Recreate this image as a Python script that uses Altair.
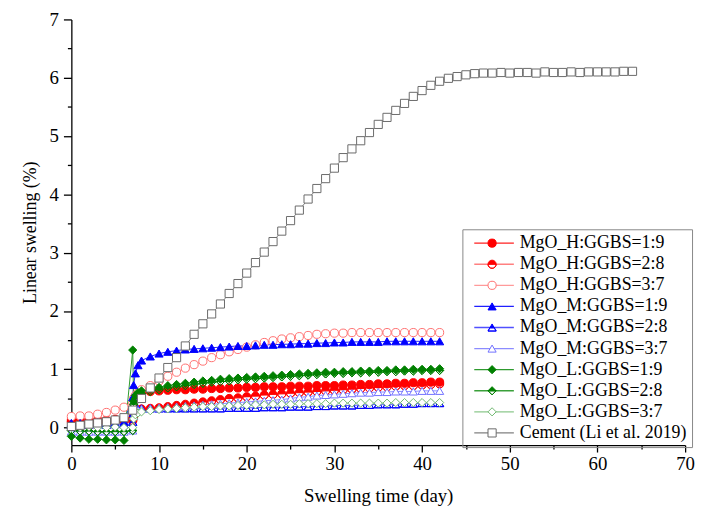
import altair as alt
import pandas as pd

SERIES = [
    "MgO_H:GGBS=1:9", "MgO_H:GGBS=2:8", "MgO_H:GGBS=3:7",
    "MgO_M:GGBS=1:9", "MgO_M:GGBS=2:8", "MgO_M:GGBS=3:7",
    "MgO_L:GGBS=1:9", "MgO_L:GGBS=2:8", "MgO_L:GGBS=3:7",
    "Cement (Li et al. 2019)",
]

MGO_DAYS = list(range(0, 7)) + [7, 7.1, 7.3, 7.6] + list(range(8, 43))

H_19 = [0.13, 0.13, 0.12, 0.13, 0.13, 0.14, 0.15,
        0.15, 0.35, 0.50, 0.56,
        0.60, 0.62, 0.63, 0.64, 0.65, 0.65, 0.66, 0.66, 0.67, 0.67, 0.68, 0.68, 0.69, 0.69,
        0.70, 0.70, 0.70, 0.71, 0.71, 0.71, 0.72, 0.72, 0.72, 0.73, 0.73, 0.74, 0.74, 0.75,
        0.75, 0.76, 0.76, 0.77, 0.77, 0.78, 0.78]
H_28 = [0.10, 0.10, 0.09, 0.10, 0.10, 0.11, 0.12,
        0.12, 0.20, 0.28, 0.30,
        0.32, 0.33, 0.34, 0.36, 0.38, 0.40, 0.42, 0.44, 0.46, 0.48, 0.50, 0.51, 0.53, 0.54,
        0.56, 0.57, 0.58, 0.59, 0.60, 0.61, 0.62, 0.63, 0.64, 0.65, 0.66, 0.67, 0.68, 0.69,
        0.70, 0.71, 0.72, 0.72, 0.73, 0.74, 0.75]
H_37 = [0.19, 0.20, 0.20, 0.23, 0.26, 0.30, 0.35,
        0.42, 0.50, 0.55, 0.60,
        0.65, 0.72, 0.80, 0.88, 0.95, 1.02, 1.08, 1.14, 1.20, 1.25, 1.30, 1.34, 1.38, 1.42,
        1.46, 1.49, 1.52, 1.54, 1.56, 1.58, 1.60, 1.61, 1.62, 1.62, 1.63, 1.63, 1.63, 1.63,
        1.63, 1.63, 1.63, 1.63, 1.63, 1.63, 1.63]
M_19 = [0.08, 0.08, 0.07, 0.09, 0.08, 0.08, 0.10,
        0.52, 0.73, 0.93, 1.07,
        1.15, 1.22, 1.27, 1.30, 1.32, 1.34, 1.35, 1.36, 1.37, 1.38, 1.39, 1.40, 1.40, 1.41,
        1.42, 1.42, 1.43, 1.43, 1.44, 1.44, 1.45, 1.45, 1.46, 1.46, 1.47, 1.47, 1.47, 1.47,
        1.48, 1.48, 1.48, 1.48, 1.48, 1.48, 1.48]
M_28 = [0.05, 0.06, 0.05, 0.06, 0.05, 0.06, 0.06,
        0.10, 0.25, 0.30, 0.32,
        0.33, 0.33, 0.33, 0.33, 0.33, 0.33, 0.33, 0.33, 0.33, 0.33, 0.34, 0.34, 0.34, 0.34,
        0.35, 0.35, 0.35, 0.36, 0.36, 0.36, 0.37, 0.37, 0.38, 0.38, 0.38, 0.39, 0.39, 0.40,
        0.40, 0.40, 0.41, 0.41, 0.42, 0.42, 0.42]
M_37 = [-0.07, -0.07, -0.07, -0.07, -0.07, -0.07, -0.07,
        -0.05, 0.20, 0.28, 0.30,
        0.32, 0.33, 0.34, 0.35, 0.36, 0.37, 0.38, 0.39, 0.40, 0.41, 0.42, 0.43, 0.44, 0.45,
        0.46, 0.47, 0.48, 0.50, 0.52, 0.53, 0.55, 0.56, 0.57, 0.58, 0.59, 0.60, 0.60, 0.61,
        0.61, 0.62, 0.62, 0.62, 0.63, 0.63, 0.63]
L_19 = [-0.15, -0.18, -0.20, -0.20, -0.21, -0.21, -0.22,
        1.33, 0.45, 0.55, 0.60,
        0.63, 0.66, 0.69, 0.72, 0.74, 0.76, 0.78, 0.80, 0.81, 0.83, 0.84, 0.85, 0.86, 0.87,
        0.88, 0.89, 0.90, 0.91, 0.92, 0.93, 0.94, 0.95, 0.95, 0.96, 0.96, 0.97, 0.97, 0.98,
        0.98, 0.99, 0.99, 1.00, 1.00, 1.00, 1.01]
L_28 = [-0.05, -0.06, -0.06, -0.07, -0.07, -0.07, -0.07,
        -0.05, 0.40, 0.50, 0.55,
        0.58, 0.62, 0.65, 0.68, 0.70, 0.72, 0.74, 0.76, 0.78, 0.79, 0.80, 0.82, 0.83, 0.84,
        0.85, 0.86, 0.87, 0.88, 0.89, 0.90, 0.91, 0.92, 0.93, 0.93, 0.94, 0.94, 0.95, 0.95,
        0.96, 0.96, 0.97, 0.97, 0.98, 0.98, 0.98]
L_37 = [0.00, 0.00, 0.01, 0.00, 0.00, 0.01, 0.00,
        0.00, 0.15, 0.22, 0.25,
        0.27, 0.29, 0.31, 0.32, 0.33, 0.34, 0.35, 0.36, 0.36, 0.37, 0.37, 0.38, 0.38, 0.39,
        0.39, 0.40, 0.40, 0.40, 0.41, 0.41, 0.41, 0.41, 0.42, 0.42, 0.42, 0.42, 0.42, 0.42,
        0.42, 0.43, 0.43, 0.43, 0.43, 0.43, 0.43]

CEMENT_DAYS = list(range(0, 65))
CEMENT = [0.02, 0.04, 0.06, 0.08, 0.10, 0.13, 0.17, 0.30, 0.50, 0.68,
          0.85, 1.03, 1.20, 1.40, 1.60, 1.78, 1.95, 2.12, 2.30, 2.47,
          2.65, 2.83, 3.01, 3.19, 3.37, 3.55, 3.73, 3.92, 4.10, 4.27,
          4.45, 4.63, 4.78, 4.92, 5.06, 5.20, 5.32, 5.44, 5.56, 5.68,
          5.78, 5.87, 5.94, 5.99, 6.02, 6.05, 6.07, 6.08, 6.08, 6.09,
          6.08, 6.09, 6.09, 6.08, 6.10, 6.09, 6.09, 6.10, 6.09, 6.10,
          6.10, 6.10, 6.10, 6.11, 6.11]

LINE_COLORS = ["#ff2020", "#ff8080", "#ff9a9a", "#2020ff", "#5050ff", "#8c8cff",
               "#2e9a2e", "#3aa03a", "#8cc88c", "#808080"]
MARKER_STROKES = ["#ff0000", "#ff0000", "#ff7070", "#0000ff", "#0000ff", "#7070ff",
                  "#008000", "#008000", "#70b870", "#6a6a6a"]
MARKER_FILLS = ["#ff0000", "#ff0000", "white", "#0000ff", "#0000ff", "white",
                "#008000", "#008000", "white", "white"]
MARKER_SIZES = [68, 68, 68, 68, 68, 68, 68, 68, 68, 40]

HALF_CIRCLE = "M-1,0A1,1,0,1,1,1,0A1,1,0,1,1,-1,0ZM-1,0A1,1,0,0,0,1,0Z"
HALF_TRIANGLE = "M0,-0.866L1,0.866L-1,0.866ZM-0.558,0.1L-1,0.866L1,0.866L0.558,0.1Z"
HALF_DIAMOND = "M0,-1L1,0L0,1L-1,0ZM-1,0L0,1L1,0Z"
SHAPES = ["circle", HALF_CIRCLE, "circle", "triangle-up", HALF_TRIANGLE, "triangle-up",
          "diamond", HALF_DIAMOND, "diamond", "square"]

MGO_VALUES = [H_19, H_28, H_37, M_19, M_28, M_37, L_19, L_28, L_37]

# marker layer uses a distinct key so its legend is not merged with the line legend
MARKER_KEYS = [s + " " for s in SERIES]

rows = []
for name, vals in zip(SERIES[:9], MGO_VALUES):
    for d, v in zip(MGO_DAYS, vals):
        rows.append({"day": d, "value": v, "series": name})
for d, v in zip(CEMENT_DAYS, CEMENT):
    rows.append({"day": d, "value": v, "series": SERIES[9]})
df = pd.DataFrame(rows)
df["marker"] = df["series"] + " "

FONT = "Liberation Serif"

x_axis = alt.Axis(
    values=list(range(0, 71, 5)),
    labelExpr="datum.value % 10 === 0 ? format(datum.value, 'd') : ''",
    tickSize={"condition": {"test": "datum.value % 10 !== 0", "value": 4}, "value": 7},
    title="Swelling time (day)",
    labelFlush=False, labelOverlap=False, grid=False,
    labelPadding=3, titlePadding=13,
    labelFont=FONT, labelFontSize=19, titleFont=FONT, titleFontSize=19,
)
y_axis = alt.Axis(
    values=[i * 0.5 for i in range(0, 15)],
    labelExpr="datum.value % 1 === 0 ? format(datum.value, 'd') : ''",
    tickSize={"condition": {"test": "datum.value % 1 !== 0", "value": 4}, "value": 8},
    title="Linear swelling (%)",
    labelFlush=False, labelOverlap=False, grid=False,
    labelPadding=5, titlePadding=10,
    labelFont=FONT, labelFontSize=19, titleFont=FONT, titleFontSize=18,
)

X = alt.X("day:Q", scale=alt.Scale(domain=[0, 70], nice=False, zero=False), axis=x_axis)
Y = alt.Y("value:Q", scale=alt.Scale(domain=[-0.3, 7], nice=False, zero=False), axis=y_axis)

line_legend = alt.Legend(
    orient="none", legendX=395, legendY=212, title=None,
    symbolType="M-1,0L19,0", symbolSize=16, symbolStrokeWidth=1.3,
    labelOffset=35, labelFont=FONT, labelFontSize=18, labelColor="black",
    labelLimit=300, rowPadding=3.3, padding=5,
    strokeColor="#888888",
)
point_legend = alt.Legend(
    orient="none", legendX=411, legendY=212, title=None,
    symbolStrokeWidth=1,
    labelExpr="''", labelFont=FONT, labelFontSize=18,
    labelLimit=300, rowPadding=3.3, padding=5,
)

lines = alt.Chart(df).mark_line(strokeWidth=1).encode(
    x=X, y=Y,
    stroke=alt.Stroke("series:N", scale=alt.Scale(domain=SERIES, range=LINE_COLORS),
                      legend=line_legend, sort=SERIES),
)

points = alt.Chart(df).mark_point(filled=False, strokeWidth=1, opacity=1).encode(
    x=X, y=Y,
    color=alt.Color("marker:N", scale=alt.Scale(domain=MARKER_KEYS, range=MARKER_STROKES),
                    legend=point_legend, sort=MARKER_KEYS),
    fill=alt.Fill("marker:N", scale=alt.Scale(domain=MARKER_KEYS, range=MARKER_FILLS),
                  legend=point_legend, sort=MARKER_KEYS),
    shape=alt.Shape("marker:N", scale=alt.Scale(domain=MARKER_KEYS, range=SHAPES),
                    legend=point_legend, sort=MARKER_KEYS),
    size=alt.Size("marker:N", scale=alt.Scale(domain=MARKER_KEYS, range=MARKER_SIZES),
                  legend=point_legend, sort=MARKER_KEYS),
)

chart = alt.layer(lines, points).properties(
    width=620, height=430,
    autosize=alt.AutoSizeParams(type="none"),
    padding={"left": 64, "top": 9, "right": 12, "bottom": 62},
).configure(font=FONT).configure_view(stroke=None).configure_axis(
    labelFont=FONT, titleFont=FONT,
    labelColor="black", titleFontWeight="normal", titleColor="black",
    domainColor="black", domainWidth=1.3, tickColor="black", tickWidth=1.3,
).configure_legend(labelFont=FONT)

chart.save("out.html", embed_options={"renderer": "svg", "actions": False})
